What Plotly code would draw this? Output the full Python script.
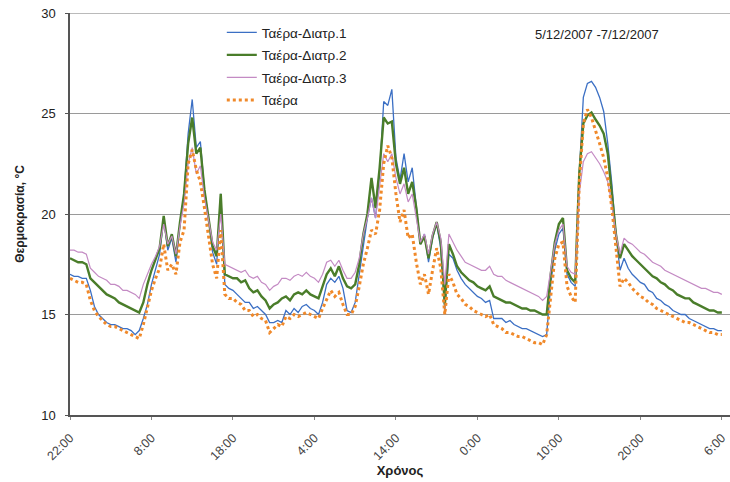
import plotly.graph_objects as go

# time axis: hours after 22:00 of the first day, sampled every 30 minutes
hours = [i * 0.5 for i in range(161)]
tick_hours = [0, 10, 20, 30, 40, 50, 60, 70, 80]
tick_labels = ["22:00", "8:00", "18:00", "4:00", "14:00", "0:00", "10:00", "20:00", "6:00"]

diatr1 = [
    17.0, 16.9, 16.9, 16.8, 16.8, 16.2, 15.4, 15.0, 14.8, 14.6,
    14.5, 14.5, 14.4, 14.3, 14.3, 14.2, 14.0, 14.2, 14.8, 15.5,
    16.5, 17.2, 18.0, 19.8, 18.2, 18.8, 17.6, 19.5, 21.0, 24.0,
    25.7, 23.3, 23.6, 21.2, 19.8, 18.1, 17.5, 21.0, 16.5, 16.3,
    16.2, 16.0, 15.8, 15.6, 15.6, 15.3, 15.4, 15.2, 15.0, 14.6,
    14.6, 14.7, 14.6, 15.2, 15.0, 15.3, 15.1, 15.4, 15.5, 15.3,
    15.2, 15.0, 15.6, 16.5, 16.8, 16.6, 16.9, 16.3, 15.2, 15.1,
    15.6, 17.0, 18.5, 19.8, 20.8, 19.8, 22.0, 25.6, 25.4, 26.2,
    22.8, 21.7, 23.0, 21.6, 22.3, 20.5, 18.5, 19.0, 17.6, 18.8,
    19.5, 18.3, 15.2, 18.0, 17.8, 17.2, 16.8, 16.5, 16.3, 16.1,
    15.9, 15.8, 15.6, 15.7, 14.8, 14.8, 14.8, 14.6, 14.7, 14.5,
    14.4, 14.3, 14.3, 14.2, 14.1, 14.0, 13.9, 14.0, 16.5, 18.2,
    19.0, 19.3, 17.0, 16.6, 16.4, 22.0, 25.8, 26.5, 26.6, 26.3,
    25.8, 25.1, 23.5, 21.5, 19.0, 17.2, 17.8, 17.3, 17.0, 16.8,
    16.6, 16.5, 16.2, 16.1, 15.8, 15.7, 15.5, 15.4, 15.2, 15.1,
    15.0, 15.0, 14.8, 14.7, 14.6, 14.5, 14.4, 14.3, 14.3, 14.2,
    14.2,
]

diatr2 = [
    17.8, 17.7, 17.6, 17.6, 17.5, 16.8, 16.6, 16.4, 16.2, 16.0,
    15.9, 15.8, 15.6, 15.5, 15.4, 15.3, 15.2, 15.1, 15.6, 16.5,
    17.2, 17.8, 18.3, 19.9, 18.4, 19.0, 17.9, 19.6, 21.0, 23.5,
    24.8, 23.0, 23.3, 21.2, 19.8, 18.4, 17.9, 21.0, 17.0, 16.9,
    16.8, 16.8, 16.6, 16.7, 16.3, 16.1, 16.2, 15.9, 15.7, 15.3,
    15.5, 15.6, 15.8, 15.9, 15.7, 16.0, 16.1, 16.0, 16.2, 16.0,
    15.9, 15.8, 16.4, 17.0, 17.3, 16.9, 17.4, 16.8, 16.4, 16.3,
    16.5, 17.5, 19.0, 20.0, 21.8, 20.3, 22.3, 24.8, 24.5, 24.6,
    22.5, 21.5, 22.3, 21.0, 21.6, 20.3, 18.5, 18.9, 17.8, 18.9,
    19.6, 18.6, 15.5, 18.5, 18.0, 17.4, 17.1, 16.9, 16.7, 16.6,
    16.4, 16.3, 16.2, 16.4, 15.9, 15.8, 15.7, 15.6, 15.6, 15.5,
    15.4, 15.3, 15.3, 15.2, 15.2, 15.1, 15.0, 15.0, 17.0, 18.6,
    19.5, 19.8, 17.2, 16.8, 16.6, 22.0, 24.5, 24.9, 25.05, 24.7,
    24.4, 24.0, 23.0, 21.0, 19.0, 17.8, 18.5, 18.2, 17.9, 17.7,
    17.5, 17.3, 17.1, 16.9, 16.8, 16.6, 16.5, 16.3, 16.2, 16.0,
    15.9, 15.8, 15.8, 15.6, 15.5, 15.4, 15.3, 15.2, 15.2, 15.1,
    15.1,
]

diatr3 = [
    18.2, 18.2, 18.1, 18.1, 18.0, 17.3, 17.1, 16.9, 16.8, 16.7,
    16.5, 16.5, 16.4, 16.2, 16.2, 16.1, 16.0, 15.8, 16.5, 17.0,
    17.5, 17.9, 18.4, 19.5, 18.5, 18.9, 18.0, 19.4, 20.5, 22.5,
    23.3, 22.0, 22.4, 20.8, 19.6, 18.6, 18.2, 20.0, 17.5, 17.4,
    17.3, 17.2, 17.1, 17.2, 16.9, 16.8, 16.9, 16.6, 16.5, 16.2,
    16.4, 16.5, 16.8, 16.8, 16.7, 16.9, 17.0, 16.9, 17.1, 16.9,
    16.8, 16.6, 17.0, 17.6, 17.7, 17.4, 17.7, 17.2, 16.8, 16.8,
    17.1, 17.8, 19.0, 19.8, 20.8, 19.8, 21.5, 23.0, 22.6, 23.0,
    21.8, 21.0, 21.5, 20.6, 21.0, 19.8, 18.6, 19.0, 18.0, 19.0,
    19.6, 18.8, 16.5, 19.0, 18.6, 18.2, 17.9, 17.6, 17.5, 17.4,
    17.3, 17.2, 17.2, 17.4, 17.0, 16.9, 16.9, 16.7, 16.6, 16.5,
    16.4, 16.3, 16.2, 16.1, 16.0, 15.9, 15.7, 15.9, 17.2, 18.5,
    19.2, 19.5, 17.4, 17.1, 17.0, 21.0, 22.6, 23.0, 23.1, 22.8,
    22.5, 22.1, 21.6, 20.5, 19.0, 18.0, 18.8, 18.6, 18.5, 18.3,
    18.1, 18.0, 17.8, 17.6, 17.5, 17.4, 17.2, 17.1, 17.0, 16.9,
    16.8, 16.7, 16.6, 16.5, 16.4, 16.3, 16.3, 16.2, 16.1, 16.1,
    16.0,
]

taera = [
    16.8, 16.7, 16.6, 16.6, 16.5, 15.7, 15.2, 14.9, 14.7, 14.5,
    14.4, 14.4, 14.3, 14.2, 14.1, 14.0, 13.9, 13.8, 14.5, 15.4,
    16.2, 16.8, 17.3, 18.5, 17.2, 17.5, 17.0, 18.6, 19.2, 22.5,
    23.2, 22.2, 21.6, 20.3, 18.8, 17.5, 16.8, 19.2, 16.0, 15.8,
    15.8, 15.6, 15.5, 15.2, 15.2, 14.9, 15.0, 14.8, 14.7, 14.1,
    14.3, 14.5, 14.4, 14.9, 14.8, 15.0, 14.9, 15.0, 15.1, 15.0,
    14.9, 14.8, 15.3, 15.8, 16.2, 15.9, 16.1, 15.5, 15.0, 15.0,
    15.4, 16.4, 17.5, 18.3, 19.2, 19.0, 20.2, 22.5, 23.4, 22.8,
    21.0, 19.6, 20.2, 18.8, 19.0, 17.6, 16.5, 17.0, 16.0, 17.2,
    18.3, 17.3, 15.0, 17.0, 16.6, 16.0, 15.8, 15.5, 15.4, 15.2,
    15.1, 15.0, 14.9, 15.0, 14.5, 14.4, 14.3, 14.1, 14.1, 14.0,
    13.9, 13.9, 13.8, 13.7, 13.6, 13.6, 13.5, 14.0, 16.0, 17.8,
    18.5, 18.6, 16.4, 15.9, 15.6, 21.5, 24.5, 25.2, 24.8, 24.2,
    23.5, 22.8, 21.8, 20.3, 18.3, 16.4, 16.8, 16.6, 16.3, 16.1,
    15.9, 15.8, 15.6, 15.5, 15.3, 15.2, 15.1, 15.0, 14.9, 14.8,
    14.7, 14.6, 14.6, 14.5, 14.4, 14.3, 14.2, 14.1, 14.1, 14.0,
    14.0,
]

series_names = ["Ταέρα-Διατρ.1", "Ταέρα-Διατρ.2", "Ταέρα-Διατρ.3", "Ταέρα"]
y_ticks = [10, 15, 20, 25, 30]
date_label = "5/12/2007 -7/12/2007"

for s in (diatr1, diatr2, diatr3, taera):
    assert len(s) == len(hours), len(s)

styles = [
    dict(color="#3b6fc4", width=1.3),
    dict(color="#4a7d2a", width=2.4),
    dict(color="#c48bc4", width=1.2),
    dict(color="#f0892a", width=3, dash="dot"),
]

fig = go.Figure()
for name, vals, st in zip(series_names, [diatr1, diatr2, diatr3, taera], styles):
    fig.add_trace(go.Scatter(x=hours, y=vals, mode="lines", name=name,
                             line=st, legendgroup=name))

font_family = "Liberation Sans, Arial, sans-serif"
fig.update_layout(
    width=730, height=482,
    margin=dict(l=70, r=0, t=13, b=67, autoexpand=False),
    paper_bgcolor="white", plot_bgcolor="white",
    font=dict(family=font_family, size=12, color="#222222"),
    showlegend=True,
    legend=dict(x=0.230, y=0.99, xanchor="left", yanchor="top",
                bgcolor="rgba(0,0,0,0)", font=dict(size=13.5, color="#222222"),
                tracegroupgap=2, itemwidth=30),
    xaxis=dict(range=[0, 81], tickmode="array", tickvals=tick_hours, ticktext=tick_labels,
               tickangle=-45, tickfont=dict(size=12.5, color="#444444"),
               ticklabeloverflow="allow", ticklabelstandoff=6,
               showgrid=False, zeroline=False,
               showline=True, linecolor="#555555", linewidth=1.5,
               ticks="outside", ticklen=3, tickcolor="#888888",
               title=dict(text="<b>Χρόνος</b>", font=dict(size=13, color="#222222"), standoff=2)),
    yaxis=dict(range=[10, 30], tickmode="array", tickvals=y_ticks,
               tickfont=dict(size=13, color="#222222"), ticklabelstandoff=7,
               showgrid=True, gridcolor="#9a9a9a", gridwidth=1,
               zeroline=False, showline=True, linecolor="#555555", linewidth=1.5,
               ticks="outside", ticklen=3, tickcolor="#555555",
               title=dict(text="<b>Θερμοκρασία, °C</b>", font=dict(size=12, color="#222222"),
                          standoff=14)),
    shapes=[dict(type="line", xref="paper", yref="y", x0=0, x1=1, y0=y_ticks[-1], y1=y_ticks[-1],
                 line=dict(color="#777777", width=1.2))],
    annotations=[dict(text=date_label, xref="paper", yref="paper",
                      x=(597 - 70) / 660, y=1 - (34 - 13) / 402, xanchor="center", yanchor="middle",
                      showarrow=False, font=dict(size=13, color="#222222"))],
)

fig.write_html(
    "out.html",
    config={"displayModeBar": False},
    post_script="document.body.style.margin='0';document.body.style.overflow='hidden';",
)
